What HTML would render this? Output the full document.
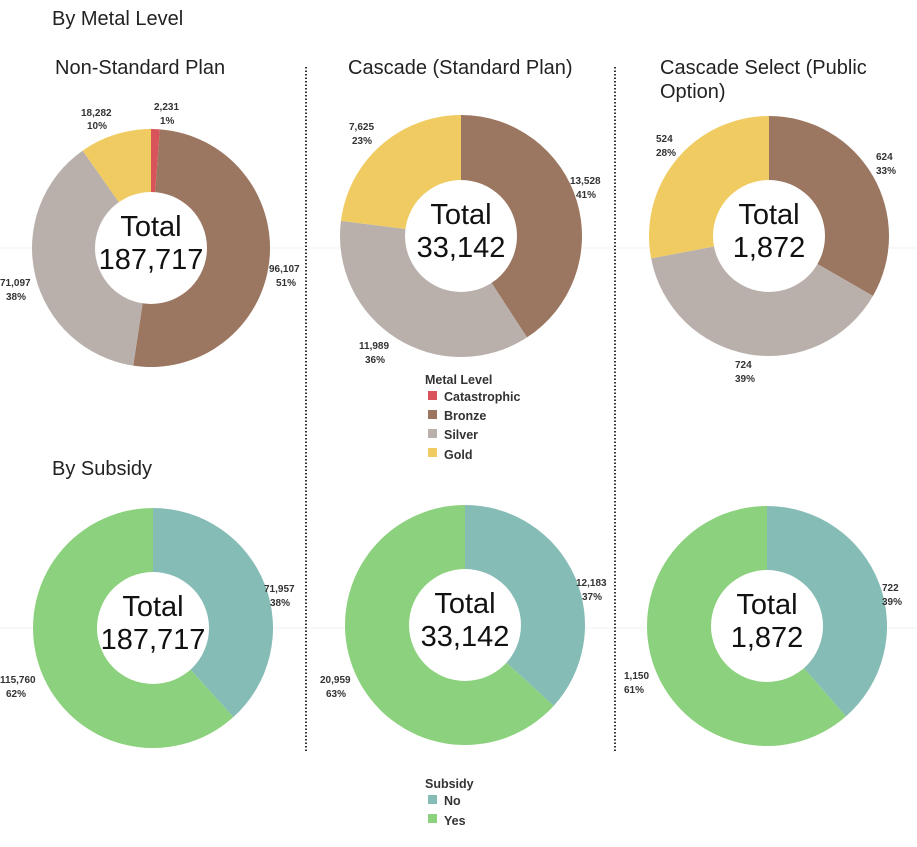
<!DOCTYPE html>
<html><head><meta charset="utf-8"><style>
body{margin:0;background:#fff;width:917px;height:842px;overflow:hidden;font-family:"Liberation Sans",sans-serif}
svg text{font-family:"Liberation Sans",sans-serif}
.t{font-size:20px;fill:#222}
.l{font-size:10px;font-weight:bold;fill:#333}
.c{font-size:29px;fill:#111}
.g{font-size:12.5px;font-weight:bold;fill:#333}
</style></head><body>
<svg id="s" width="917" height="842" xmlns="http://www.w3.org/2000/svg">
<line x1="0" y1="248" x2="917" y2="248" stroke="#f0f0f0"/>
<line x1="0" y1="628" x2="917" y2="628" stroke="#f0f0f0"/>
<line x1="306" y1="67" x2="306" y2="752" stroke="#333" stroke-width="2" stroke-dasharray="1.5,2"/>
<line x1="615" y1="67" x2="615" y2="752" stroke="#333" stroke-width="2" stroke-dasharray="1.5,2"/>
<text class="t" x="52" y="25">By Metal Level</text>
<text class="t" x="55" y="74">Non-Standard Plan</text>
<text class="t" x="348" y="74">Cascade (Standard Plan)</text>
<text class="t" x="660" y="74">Cascade Select (Public</text>
<text class="t" x="660" y="98">Option)</text>
<text class="t" x="52" y="475">By Subsidy</text>
<g id="d"></g>
<text class="l" x="81" y="116">18,282</text><text class="l" x="87" y="129">10%</text>
<text class="l" x="154" y="110">2,231</text><text class="l" x="160" y="124">1%</text>
<text class="l" x="269" y="272">96,107</text><text class="l" x="276" y="286">51%</text>
<text class="l" x="0" y="286">71,097</text><text class="l" x="6" y="300">38%</text>
<text class="l" x="349" y="130">7,625</text><text class="l" x="352" y="144">23%</text>
<text class="l" x="570" y="184">13,528</text><text class="l" x="576" y="198">41%</text>
<text class="l" x="359" y="349">11,989</text><text class="l" x="365" y="363">36%</text>
<text class="l" x="656" y="142">524</text><text class="l" x="656" y="156">28%</text>
<text class="l" x="876" y="160">624</text><text class="l" x="876" y="174">33%</text>
<text class="l" x="735" y="368">724</text><text class="l" x="735" y="382">39%</text>
<text class="l" x="264" y="592">71,957</text><text class="l" x="270" y="606">38%</text>
<text class="l" x="0" y="683">115,760</text><text class="l" x="6" y="697">62%</text>
<text class="l" x="576" y="586">12,183</text><text class="l" x="582" y="600">37%</text>
<text class="l" x="320" y="683">20,959</text><text class="l" x="326" y="697">63%</text>
<text class="l" x="882" y="591">722</text><text class="l" x="882" y="605">39%</text>
<text class="l" x="624" y="679">1,150</text><text class="l" x="624" y="693">61%</text>
<text class="g" x="425" y="384">Metal Level</text>
<rect x="428" y="391" width="9" height="9" fill="#d9545a"/><text class="g" x="444" y="401">Catastrophic</text>
<rect x="428" y="410" width="9" height="9" fill="#9b7660"/><text class="g" x="444" y="420">Bronze</text>
<rect x="428" y="429" width="9" height="9" fill="#bab0ab"/><text class="g" x="444" y="439">Silver</text>
<rect x="428" y="448" width="9" height="9" fill="#f0cb62"/><text class="g" x="444" y="459">Gold</text>
<text class="g" x="425" y="788">Subsidy</text>
<rect x="428" y="795" width="9" height="9" fill="#86bcb6"/><text class="g" x="444" y="805">No</text>
<rect x="428" y="814" width="9" height="9" fill="#8cd17d"/><text class="g" x="444" y="825">Yes</text>
</svg>
<script>
var C={cat:"#d9545a",br:"#9b7660",si:"#bab0ab",go:"#f0cb62",no:"#86bcb6",ye:"#8cd17d"};
var charts=[
[151,248,119,[[2231,C.cat],[96107,C.br],[71097,C.si],[18282,C.go]],"187,717"],
[461,236,121,[[13528,C.br],[11989,C.si],[7625,C.go]],"33,142"],
[769,236,120,[[624,C.br],[724,C.si],[524,C.go]],"1,872"],
[153,628,120,[[71957,C.no],[115760,C.ye]],"187,717"],
[465,625,120,[[12183,C.no],[20959,C.ye]],"33,142"],
[767,626,120,[[722,C.no],[1150,C.ye]],"1,872"]];
var g=document.getElementById("d"),h="";
charts.forEach(function(c){
 var cx=c[0],cy=c[1],r=c[2],tot=0;c[3].forEach(function(s){tot+=s[0]});
 var a=0;
 c[3].forEach(function(s){
  var b=a+s[0]/tot*2*Math.PI;
  var x1=cx+r*Math.sin(a),y1=cy-r*Math.cos(a),x2=cx+r*Math.sin(b),y2=cy-r*Math.cos(b);
  h+='<path d="M'+cx+','+cy+'L'+x1+','+y1+'A'+r+','+r+' 0 '+((b-a)>Math.PI?1:0)+' 1 '+x2+','+y2+'Z" fill="'+s[1]+'"/>';
  a=b;
 });
 h+='<circle cx="'+cx+'" cy="'+cy+'" r="56" fill="#fff"/>';
 h+='<text class="c" x="'+cx+'" y="'+(cy-12)+'" text-anchor="middle">Total</text>';
 h+='<text class="c" x="'+cx+'" y="'+(cy+21)+'" text-anchor="middle">'+c[4]+'</text>';
});
g.innerHTML=h;
</script>
</body></html>
